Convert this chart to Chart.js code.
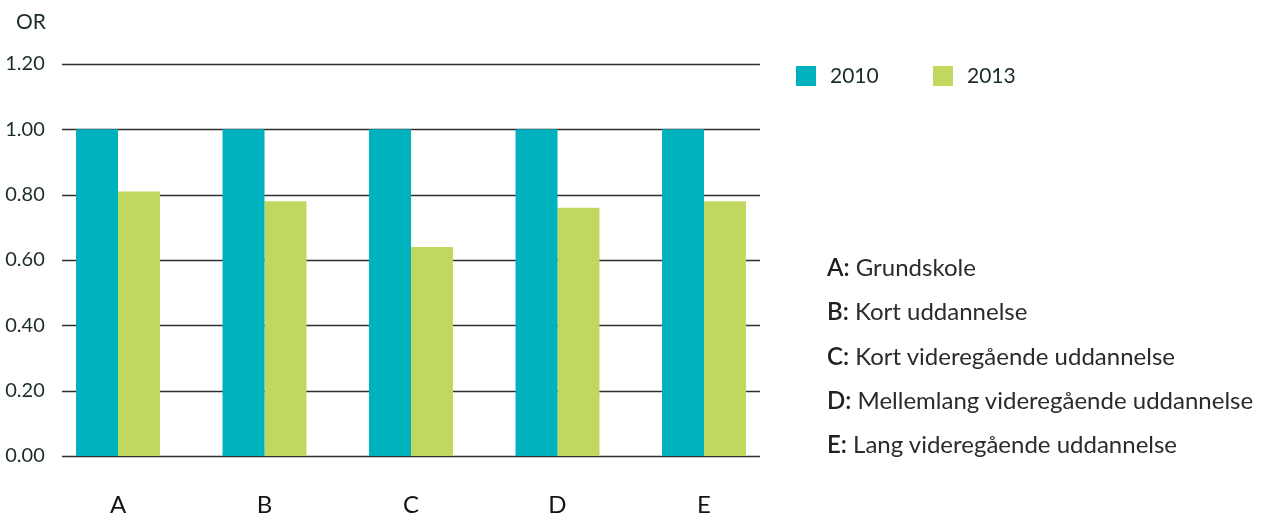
<!DOCTYPE html>
<html lang="da">
<head>
  <meta charset="UTF-8" />
  <title>OR 2010 / 2013</title>
  <script src="https://cdn.jsdelivr.net/npm/chart.js@4.4.0/dist/chart.umd.min.js"></script>
  <style>
    html, body { margin: 0; padding: 0; background: #fff; }
    body { font-family: 'Lato', sans-serif; color: #1c2b2b; }
    #wrap { position: relative; width: 1265px; height: 520px; }
    #chart { position: absolute; left: 0; top: 0; }
    .ytitle { position: absolute; left: 16px; top: 8px; font-size: 21px; line-height: 26px; }
    .legend { position: absolute; top: 62px; left: 796px; font-size: 21px; }
    .legend span.item { position: absolute; top: 0; white-space: nowrap; line-height: 26px; }
    .legend i { display: inline-block; width: 20px; height: 20px; vertical-align: -3px; margin-right: 14px; }
    .notes { position: absolute; left: 827px; top: 253px; font-size: 24px; color: #2b2b2b; }
    .notes div { height: 44.3px; line-height: 28px; white-space: nowrap; }
    .notes b { font-weight: 600; color: #1f1f1f; }
  </style>
</head>
<body>
<div id="wrap">
  <canvas id="chart" width="1265" height="520"></canvas>
  <div class="ytitle">OR</div>
  <div class="legend" id="legend"></div>
  <div class="notes" id="notes"></div>
</div>

<script>
const categories = ['A', 'B', 'C', 'D', 'E'];
const seriesNames = ['2010', '2013'];
const values2010 = [1.00, 1.00, 1.00, 1.00, 1.00];
const values2013 = [0.81, 0.78, 0.64, 0.76, 0.78];
const yTicks = [0, 0.2, 0.4, 0.6, 0.8, 1.0, 1.2];
const notes = [
  'Grundskole',
  'Kort uddannelse',
  'Kort videregående uddannelse',
  'Mellemlang videregående uddannelse',
  'Lang videregående uddannelse'
];
const colors = ['#00b2be', '#c1d860'];

// legend + explanation text to the right of the plot
const legend = document.getElementById('legend');
seriesNames.forEach((name, i) => {
  const item = document.createElement('span');
  item.className = 'item';
  item.style.left = (i * 137) + 'px';
  item.innerHTML = `<i style="background:${colors[i]}"></i>${name}`;
  legend.appendChild(item);
});
document.getElementById('notes').innerHTML =
  categories.map((c, i) => `<div><b>${c}:</b> ${notes[i]}</div>`).join('');

// horizontal grid lines, drawn under the bars and a bit shorter than the category band
const gridLines = {
  id: 'gridLines',
  beforeDatasetsDraw(chart) {
    const { ctx, chartArea, scales } = chart;
    const inset = (chartArea.right - chartArea.left) / categories.length * 0.118;
    ctx.save();
    ctx.strokeStyle = '#2f2f2f';
    ctx.lineWidth = 1.3;
    yTicks.forEach(v => {
      const y = Math.round(scales.y.getPixelForValue(v)) + 0.5;
      ctx.beginPath();
      ctx.moveTo(chartArea.left + inset, y);
      ctx.lineTo(chartArea.right - inset, y);
      ctx.stroke();
    });
    ctx.restore();
  }
};

new Chart(document.getElementById('chart').getContext('2d'), {
  type: 'bar',
  data: {
    labels: categories,
    datasets: [
      { label: seriesNames[0], data: values2010, backgroundColor: colors[0] },
      { label: seriesNames[1], data: values2013, backgroundColor: colors[1] }
    ]
  },
  options: {
    responsive: false,
    animation: false,
    events: [],
    layout: { padding: { left: 2, top: 64, right: 487.75, bottom: 3 } },
    datasets: { bar: { categoryPercentage: 0.573, barPercentage: 1.0 } },
    plugins: {
      legend: { display: false },
      tooltip: { enabled: false },
      title: { display: false }
    },
    scales: {
      x: {
        afterFit: s => { s.height = 61; },
        grid: { display: false, drawTicks: false },
        border: { display: false },
        ticks: { color: '#141414', font: { family: 'Lato', size: 24 }, padding: 35, maxRotation: 0 }
      },
      y: {
        min: 0,
        max: 1.2,
        afterFit: s => { s.width = 42.75; },
        afterBuildTicks: s => { s.ticks = yTicks.map(v => ({ value: v })); },
        grid: { display: false, drawTicks: false },
        border: { display: false },
        ticks: {
          color: '#1c2b2b',
          font: { family: 'Lato', size: 20 },
          padding: 0,
          callback: v => v.toFixed(2)
        }
      }
    }
  },
  plugins: [gridLines]
});
</script>
</body>
</html>
